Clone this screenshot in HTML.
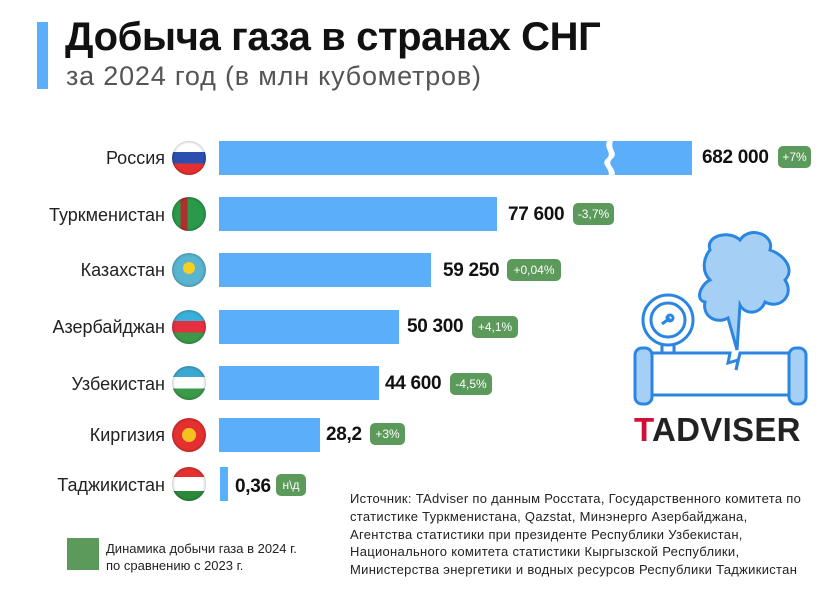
<!DOCTYPE html>
<html><head><meta charset="utf-8"><style>
body{margin:0;width:840px;height:596px;background:#fff;position:relative;overflow:hidden;font-family:"Liberation Sans","DejaVu Sans",sans-serif}
.a{position:absolute}
.bar{position:absolute;left:219px;height:34px;background:#5aaefa}
.lab{position:absolute;right:675px;font-size:18px;color:#222;line-height:22px}
.val{position:absolute;font-size:19px;font-weight:bold;color:#111;line-height:22px;letter-spacing:-0.3px}
.bd{position:absolute;height:22px;line-height:22px;background:#5b9a5b;color:#fff;font-size:12px;border-radius:5px;text-align:center}
.flag{position:absolute;left:172px;width:34px;height:34px;border-radius:50%;overflow:hidden;box-shadow:inset 0 0 3px rgba(0,0,0,.4)}
.src{position:absolute;left:350px;top:490px;font-size:13px;line-height:17.8px;color:#222;white-space:nowrap;letter-spacing:0.3px}
</style></head><body>
<div class="a" style="left:37px;top:22px;width:11px;height:67px;background:#5aaefa"></div>
<div class="a" style="left:65px;top:15px;font-size:40px;font-weight:bold;color:#111;letter-spacing:-0.4px;white-space:nowrap">Добыча газа в странах СНГ</div>
<div class="a" style="left:66px;top:61px;font-size:27px;color:#555;letter-spacing:0.8px;white-space:nowrap">за 2024 год (в млн кубометров)</div>

<div class="lab" style="top:147px">Россия</div>
<div class="lab" style="top:204px">Туркменистан</div>
<div class="lab" style="top:259px">Казахстан</div>
<div class="lab" style="top:316px">Азербайджан</div>
<div class="lab" style="top:373px">Узбекистан</div>
<div class="lab" style="top:424px">Киргизия</div>
<div class="lab" style="top:474px">Таджикистан</div>

<div class="flag" style="top:141px;background:linear-gradient(#fff 33%,#2b4fb0 33%,#2b4fb0 66%,#e53030 66%)"></div>
<div class="flag" style="top:197px;background:linear-gradient(90deg,#2a9a4a 25%,#b03030 25%,#b03030 45%,#2a9a4a 45%)"></div>
<div class="flag" style="top:253px;background:#5ab4d0"><div class="a" style="left:11px;top:9px;width:12px;height:12px;border-radius:50%;background:#f5d020"></div></div>
<div class="flag" style="top:310px;background:linear-gradient(#3bb0d8 33%,#e53040 33%,#e53040 66%,#3a9a4a 66%)"></div>
<div class="flag" style="top:366px;background:linear-gradient(#3aa8d0 33%,#fff 33%,#fff 66%,#3a9a4a 66%)"></div>
<div class="flag" style="top:418px;background:#e53030"><div class="a" style="left:10px;top:10px;width:14px;height:14px;border-radius:50%;background:#f5c020"></div></div>
<div class="flag" style="top:467px;background:linear-gradient(#e53030 30%,#fff 30%,#fff 70%,#2a8a3a 70%)"></div>

<div class="bar" style="top:141px;width:473px"></div>
<svg class="a" style="left:600px;top:139px" width="24" height="38"><path d="M8 0 C2 10 14 14 6 20 C0 26 12 30 8 38 L14 38 C18 30 6 26 12 20 C20 14 8 10 14 0 Z" fill="#fff"/></svg>
<div class="bar" style="top:197px;width:278px"></div>
<div class="bar" style="top:253px;width:212px"></div>
<div class="bar" style="top:310px;width:180px"></div>
<div class="bar" style="top:366px;width:160px"></div>
<div class="bar" style="top:418px;width:101px"></div>
<div class="bar" style="top:467px;left:220px;width:8px"></div>

<div class="val" style="left:702px;top:147px">682 000</div><div class="bd" style="left:778px;top:146px;width:33px">+7%</div>
<div class="val" style="left:508px;top:204px">77 600</div><div class="bd" style="left:573px;top:203px;width:41px">-3,7%</div>
<div class="val" style="left:443px;top:260px">59 250</div><div class="bd" style="left:507px;top:259px;width:54px">+0,04%</div>
<div class="val" style="left:407px;top:316px">50 300</div><div class="bd" style="left:472px;top:316px;width:46px">+4,1%</div>
<div class="val" style="left:385px;top:373px">44 600</div><div class="bd" style="left:450px;top:373px;width:42px">-4,5%</div>
<div class="val" style="left:326px;top:424px">28,2</div><div class="bd" style="left:370px;top:423px;width:35px">+3%</div>
<div class="val" style="left:235px;top:476px">0,36</div><div class="bd" style="left:276px;top:474px;width:30px">н\д</div>

<div class="a" style="left:67px;top:538px;width:32px;height:32px;background:#5b9a5b"></div>
<div class="a" style="left:106px;top:540px;font-size:13px;line-height:17px;color:#222;white-space:nowrap">Динамика добычи газа в 2024 г.<br>по сравнению с 2023 г.</div>
<div class="src">Источник: TAdviser по данным Росстата, Государственного комитета по<br>статистике Туркменистана, Qazstat, Минэнерго Азербайджана,<br>Агентства статистики при президенте Республики Узбекистан,<br>Национального комитета статистики Кыргызской Республики,<br>Министерства энергетики и водных ресурсов Республики Таджикистан</div>

<svg class="a" style="left:600px;top:220px" width="240" height="200" stroke="#2a86e0" stroke-width="3" fill="none">
<path d="M110 30 C105 15 130 10 140 20 C150 5 175 15 170 30 C185 35 195 50 185 60 C195 75 180 90 165 82 C160 95 145 95 140 85 L137 130 L128 98 C115 105 102 95 105 82 C95 80 100 65 110 60 C100 50 105 35 110 30 Z" fill="#a6cff5"/>
<circle cx="68" cy="100" r="25"/><circle cx="68" cy="100" r="17"/><path d="M62 104 L70 98"/><circle cx="70" cy="98" r="3"/>
<path d="M62 124 L62 133 M74 124 L74 133"/>
<rect x="35" y="128" width="17" height="56" rx="7" fill="#a6cff5"/>
<rect x="189" y="128" width="17" height="56" rx="7" fill="#a6cff5"/>
<path d="M52 133 L130 133 L128 143 L138 140 L136 150 L140 133 L189 133 M52 175 L189 175"/>
</svg>
<div class="a" style="left:634px;top:411px;font-size:33px;font-weight:bold;color:#222;letter-spacing:0.3px"><span style="color:#d0103a">T</span>ADVISER</div>
</body></html>
